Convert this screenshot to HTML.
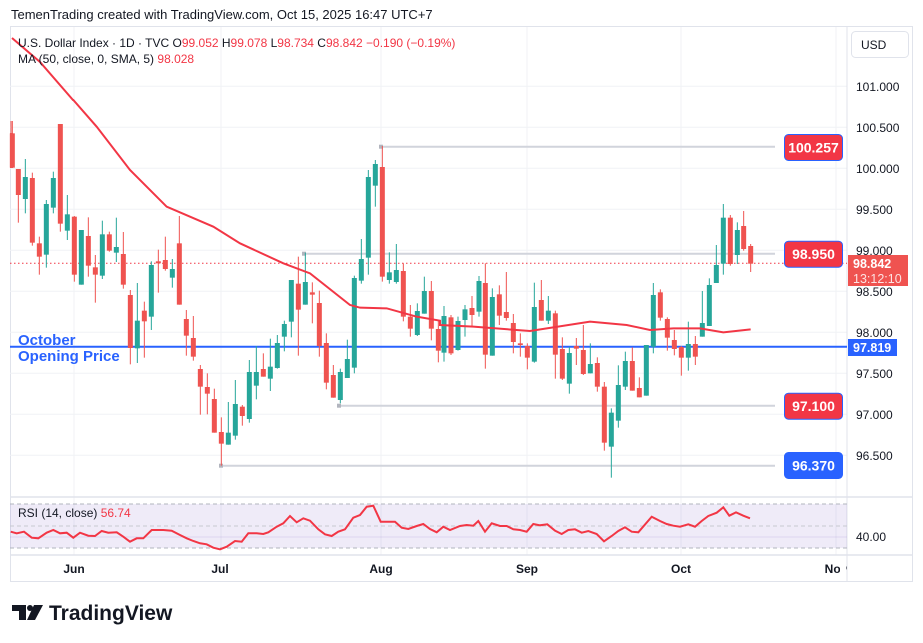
<!DOCTYPE html>
<html><head><meta charset="utf-8"><style>
body{margin:0;width:923px;height:643px;background:#fff;overflow:hidden;font-family:"Liberation Sans",sans-serif;}
svg{position:absolute;left:0;top:0}
</style></head><body>
<svg id="s" width="923" height="643" xmlns="http://www.w3.org/2000/svg" font-family="Liberation Sans, sans-serif">
<text x="11" y="19" font-size="13" fill="#131722">TemenTrading created with TradingView.com, Oct 15, 2025 16:47 UTC+7</text>
<rect x="10.5" y="26.5" width="902" height="555" fill="none" stroke="#e0e3eb"/>
<g id="grid" stroke="#f0f2f5" stroke-width="1"></g>
<line x1="847" y1="26" x2="847" y2="582" stroke="#e0e3eb"/>
<line x1="10" y1="497" x2="913" y2="497" stroke="#e0e3eb" stroke-width="1.5"/>
<line x1="10" y1="555" x2="913" y2="555" stroke="#e0e3eb" stroke-width="1.5"/>
<g id="rays"></g>
<line x1="10" y1="263.3" x2="847" y2="263.3" stroke="#f23645" stroke-dasharray="1.5,2.5" stroke-width="1"/>
<line x1="10" y1="346.7" x2="847" y2="346.7" stroke="#2962ff" stroke-width="2"/>
<g id="candles"></g>
<polyline id="ma" fill="none" stroke="#f23645" stroke-width="2" points=""/>
<text x="18" y="345" font-size="15" font-weight="bold" fill="#2962ff">October</text>
<text x="18" y="361" font-size="15" font-weight="bold" fill="#2962ff">Opening Price</text>
<text x="18" y="47" font-size="12" fill="#131722">U.S. Dollar Index · 1D · TVC  <tspan>O</tspan><tspan fill="#f23645">99.052</tspan>  H<tspan fill="#f23645">99.078</tspan>  L<tspan fill="#f23645">98.734</tspan>  C<tspan fill="#f23645">98.842</tspan>  <tspan fill="#f23645">−0.190 (−0.19%)</tspan></text>
<text x="18" y="63" font-size="12" fill="#131722">MA (50, close, 0, SMA, 5)  <tspan fill="#f23645">98.028</tspan></text>
<rect x="851.5" y="31.5" width="57" height="26" rx="4" fill="#fff" stroke="#e0e3eb"/>
<text x="861" y="49" font-size="12" fill="#131722">USD</text>
<g id="axis" font-size="12" fill="#131722"></g>
<g id="boxes" font-size="14" font-weight="bold" fill="#fff"></g>
<rect x="848" y="255" width="60" height="31" fill="#ef5350"/>
<text x="853" y="268" font-size="12.5" font-weight="bold" fill="#fff">98.842</text>
<text x="853" y="283" font-size="12.5" fill="#fde2e2">13:12:10</text>
<rect x="848" y="339" width="49" height="17" fill="#2962ff"/>
<text x="853" y="352" font-size="12.5" font-weight="bold" fill="#fff">97.819</text>
<rect x="10" y="504" width="837" height="44" fill="#7e57c2" fill-opacity="0.12"/>
<line x1="10" y1="504" x2="847" y2="504" stroke="#b2b5be" stroke-dasharray="4,3"/>
<line x1="10" y1="526" x2="847" y2="526" stroke="#c7c9d0" stroke-dasharray="4,3"/>
<line x1="10" y1="548" x2="847" y2="548" stroke="#b2b5be" stroke-dasharray="4,3"/>
<line x1="10" y1="537" x2="847" y2="537" stroke="#7e57c2" stroke-opacity="0.15"/>
<polyline id="rsi" fill="none" stroke="#f23645" stroke-width="2" points=""/>
<text x="18" y="517" font-size="12" fill="#131722">RSI (14, close)  <tspan fill="#f23645">56.74</tspan></text>
<text x="856" y="541" font-size="12" fill="#131722">40.00</text>
<g font-size="12" font-weight="bold" fill="#131722" text-anchor="middle">
<text x="74" y="573">Jun</text><text x="220" y="573">Jul</text><text x="381" y="573">Aug</text><text x="527" y="573">Sep</text><text x="681" y="573">Oct</text><text x="836" y="573">Nov</text></g>
<rect x="840" y="557" width="6" height="22" fill="#fff"/>
<line x1="847" y1="555" x2="847" y2="582" stroke="#e0e3eb"/>
<g fill="#131722"><path d="M12 605h14v15h-7v-9h-7z"/><circle cx="30" cy="608" r="3"/><path d="M34 605h9l-8 15h-8z"/></g>
<text x="49" y="620" font-size="21" font-weight="bold" fill="#131722">TradingView</text>
</svg>
<script>
const NS="http://www.w3.org/2000/svg";
function el(p,t,a,txt){const e=document.createElementNS(NS,t);for(const k in a)e.setAttribute(k,a[k]);if(txt)e.textContent=txt;document.getElementById(p).appendChild(e);return e;}
const Y=p=>168.3-(p-100)*82;
// grid
[101,100.5,100,99.5,99,98.5,98,97.5,97,96.5].forEach(p=>{el('grid','line',{x1:10,x2:847,y1:Y(p),y2:Y(p)});el('axis','text',{x:856,y:Y(p)+4.5},p.toFixed(3));});
[74,221,381,527,681,836].forEach(x=>{el('grid','line',{x1:x,x2:x,y1:27,y2:555});});
// rays
[[381,146.7],[304,253.7],[339,405.7],[221,465.7]].forEach(r=>{el('rays','line',{x1:r[0],x2:775,y1:r[1],y2:r[1],stroke:'#d1d4dc','stroke-width':2});el('rays','rect',{x:r[0]-2,y:r[1]-2,width:4,height:4,fill:'#b2b5be'});});
// boxes
[[134,'100.257','#f23645'],[240.7,'98.950','#f23645'],[392.7,'97.100','#f23645'],[452,'96.370','#2962ff']].forEach(b=>{el('boxes','rect',{x:784.5,y:b[0]+0.5,width:58,height:26,rx:4,fill:b[2],stroke:'#2962ff'});el('boxes','text',{x:813.5,y:b[0]+18.5,'text-anchor':'middle'},b[1]);});
const G='#26a69a',R='#ef5350';
const z2=[[37,R,100,203,63,203],[55,R,207,285,207,368],[76,G,231,297,177,340],[97,R,234,428,218,437],[118,R,430,470,410,524],[139,G,312,464,300,503],[160,G,234,323,215,340],[181,R,72,371,72,395],[202,G,343,392,285,420],[223,R,350,524,348,545],[244,G,390,554,390,554],[265,R,408,497,352,530],[286,R,502,524,465,608],[307,G,403,527,362,537],[328,R,403,452,395,455],[349,G,441,458,353,486],[370,R,462,554,396,566],[391,R,585,744,570,793],[412,G,662,745,549,789],[433,R,632,664,605,773],[454,G,495,650,484,690],[475,R,484,490,449,578],[496,R,480,507,410,512],[517,G,507,533,477,563],[538,R,430,614,348,614],[559,R,657,707,630,767],[580,R,714,770,648,782],[601,R,807,860,795,944],[622,R,861,881,820,943],[643,R,897,998,866,998],[664,R,996,1031,952,1097],[685,G,998,1034,906,1034],[706,G,912,1007,840,1019],[727,R,920,948,915,977],[748,G,816,957,780,968],[769,G,816,857,738,898],[790,R,807,830,760,830],[811,G,800,836,716,873],[832,G,729,804,705,806],[853,G,672,710,662,754],[874,G,540,665,540,712],[895,R,551,629,470,767],[916,G,546,614,458,614],[937,R,577,584,547,670],[958,R,609,738,572,770],[979,R,729,848,700,868],[1000,R,825,893,795,893],[1021,G,816,900,806,910],[1042,G,777,834,719,834],[1063,G,534,803,527,820],[1084,G,477,542,417,551],[1105,G,231,473,210,524],[1126,G,192,257,180,320],[1147,R,201,530,138,545],[1168,G,517,540,457,551],[1189,G,510,546,432,551],[1210,R,513,650,490,664],[1231,R,650,686,615,710],[1252,G,633,705,610,708],[1273,G,573,641,530,641],[1294,R,573,686,543,721],[1315,R,687,752,660,787]];
const z3=[[12,G,648,758,618,785],[33,R,652,760,645,765],[54,G,663,750,650,752],[75,G,628,660,615,710],[96,R,624,645,588,678],[117,G,543,635,528,650],[136,R,549,764,490,806],[157,G,591,767,565,767],[178,R,583,647,556,675],[199,R,636,654,516,662],[220,R,669,726,642,760],[241,R,730,735,700,770],[262,R,738,773,730,808],[283,G,621,785,548,788],[304,R,600,662,540,662],[325,G,632,662,588,672],[346,R,640,764,632,836],[367,R,747,836,712,840],[388,G,759,851,741,881],[409,R,738,746,714,795],[430,R,750,822,675,825],[451,G,792,820,730,820],[472,R,789,860,772,875],[493,R,860,1028,846,1052],[514,G,938,1040,925,1133],[535,G,855,962,796,983],[556,G,783,860,755,870],[577,R,783,872,742,872],[598,R,864,892,832,892],[619,G,735,887,735,887],[640,G,585,740,549,760],[661,R,577,653,568,662],[682,R,657,713,652,752],[703,R,720,747,690,766],[724,R,741,773,738,827],[745,G,732,773,665,812],[766,R,732,770,708,795],[787,G,669,710,573,710],[808,G,555,678,535,678],[829,G,495,549,435,549],[850,G,353,491,312,524],[871,R,353,492,345,497],[892,G,390,465,367,492],[911,R,378,447,333,452],[932,R,438,491,432,516]];
function draw(c,ox){const x=ox+c[0]/3;el('candles','line',{x1:x,x2:x,y1:100+c[4]/3,y2:100+c[5]/3,stroke:c[1],'stroke-width':1});const t=100+c[2]/3,b=100+c[3]/3;el('candles','rect',{x:x-2.5,y:t,width:5,height:Math.max(1,b-t),fill:c[1]});}
z2.forEach(c=>draw(c,0));z3.forEach(c=>draw(c,440));
// candle at x~11 before first
el('candles','line',{x1:11,x2:11,y1:121,y2:168,stroke:R});el('candles','rect',{x:10,y:133,width:3,height:35,fill:R});
// MA
let ma=[[12,38],[40,62],[73,100]];
[[220,0],[290,80],[390,210],[500,320],[640,380],[720,430],[850,490],[930,520],[1050,615],[1080,623],[1160,625],[1250,650],[1320,662]].forEach(p=>ma.push([p[0]/3,100+p[1]/3]));
[[0,675],[100,680],[270,693],[450,665],[560,675],[630,690],[700,685],[780,685],[850,697],[932,688]].forEach(p=>ma.push([440+p[0]/3,100+p[1]/3]));
document.getElementById('ma').setAttribute('points',ma.map(p=>p.join(',')).join(' '));
// RSI
let r=[];
[[32,155],[50,160],[72,155],[95,173],[115,175],[140,158],[160,150],[180,160],[200,158],[220,173],[240,158],[265,167],[285,168],[305,153],[325,158],[350,157],[370,170],[390,185],[410,175],[430,175],[455,150],[490,150],[515,152],[540,165],[560,175],[580,183],[600,190],[620,193],[640,203],[660,208],[680,200],[705,183],[725,185],[745,160],[770,160],[790,162],[805,157],[830,140],[850,130],[870,108],[890,127],[910,115],[930,122],[955,148],[975,163],[995,168],[1015,155],[1035,148],[1060,113],[1080,105],[1100,80],[1120,77],[1142,125],[1185,125],[1205,143],[1225,147],[1250,138],[1270,132],[1290,147],[1310,157],[1330,140],[1350,150],[1380,138]].forEach(p=>r.push([p[0]/3,480+p[1]/3]));
[[20,135],[40,137],[55,123],[75,155],[95,130],[120,138],[140,138],[160,148],[180,150],[200,155],[220,132],[240,136],[262,133],[285,152],[305,162],[325,150],[345,148],[365,158],[385,153],[410,162],[432,184],[455,168],[475,153],[495,142],[515,155],[535,157],[575,110],[600,123],[620,132],[640,137],[660,140],[685,133],[705,140],[725,123],[745,108],[770,98],[790,82],[808,107],[828,97],[850,107],[870,115]].forEach(p=>r.push([460+p[0]/3,480+p[1]/3]));
document.getElementById('rsi').setAttribute('points',r.map(p=>p[0].toFixed(1)+','+p[1].toFixed(1)).join(' '));
</script>
</body></html>
